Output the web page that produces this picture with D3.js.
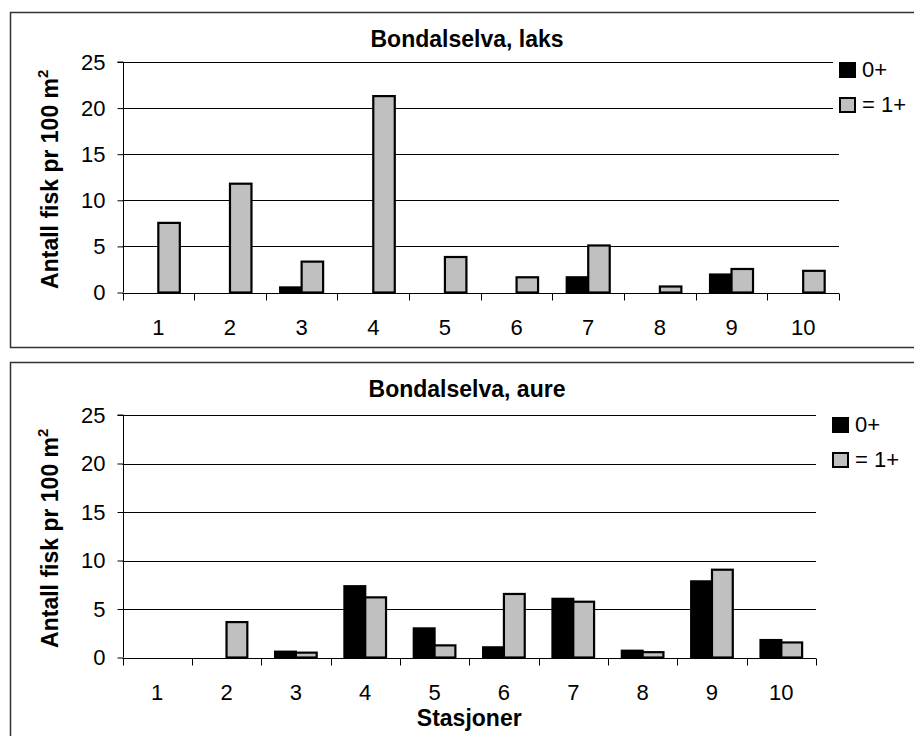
<!DOCTYPE html>
<html>
<head>
<meta charset="utf-8">
<script src="https://cdn.jsdelivr.net/npm/d3@7"></script>
<style>
  html, body { margin: 0; padding: 0; background: #fff; }
  svg { display: block; font-family: "Liberation Sans", Arial, sans-serif; }
</style>
</head>
<body>
<svg id="chart" width="914" height="736"></svg>
<script>
// ---- data ----
const categories = ["1", "2", "3", "4", "5", "6", "7", "8", "9", "10"];
const seriesNames = ["0+", "= 1+"];
const yTicks = [0, 5, 10, 15, 20, 25];
const laks0 = [0, 0, 0.55, 0, 0, 0, 1.65, 0, 1.95, 0];
const laks1 = [7.55, 11.8, 3.35, 21.3, 3.85, 1.65, 5.1, 0.65, 2.55, 2.35];
const aure0 = [0, 0, 0.6, 7.35, 3.0, 1.05, 6.05, 0.7, 7.85, 1.8];
const aure1 = [0, 3.65, 0.5, 6.2, 1.25, 6.55, 5.75, 0.55, 9.05, 1.55];
const titles = ["Bondalselva, laks", "Bondalselva, aure"];
const yTitle = "Antall fisk pr 100 m";
const xTitle = "Stasjoner";

const colors = ["#000000", "#c0c0c0"];

const panels = [
  { title: titles[0], s0: laks0, s1: laks1,
    boxY: 12, boxH: 335, left: 122.5, right: 839, top: 62, bottom: 292.5,
    titleY: 47, legX: 839, legY: 62, legBgX: 833, showXTitle: false },
  { title: titles[1], s0: aure0, s1: aure1,
    boxY: 362, boxH: 420, left: 122.5, right: 816, top: 415, bottom: 657.5,
    titleY: 397, legX: 832, legY: 417, legBgX: 828, showXTitle: true }
];

const svg = d3.select("#chart");

panels.forEach(p => {
  const g = svg.append("g");
  // outer frame
  g.append("rect")
    .attr("x", 10.5).attr("y", p.boxY + 0.5)
    .attr("width", 920).attr("height", p.boxH)
    .attr("fill", "#fff").attr("stroke", "#333").attr("stroke-width", 1.5);

  const x0 = d3.scaleBand().domain(categories).range([p.left, p.right]).padding(0);
  const bw = x0.bandwidth();
  const x1 = d3.scaleBand().domain(seriesNames).range([bw * 0.2, bw * 0.8]).padding(0);
  const y = d3.scaleLinear().domain([0, 25]).range([p.bottom, p.top]);

  // gridlines
  g.append("g").selectAll("line").data(yTicks.filter(t => t > 0)).join("line")
    .attr("x1", p.left).attr("x2", p.right)
    .attr("y1", d => Math.round(y(d)) + 0.5).attr("y2", d => Math.round(y(d)) + 0.5)
    .attr("stroke", "#000").attr("stroke-width", 1);

  // bars
  const rows = categories.map((c, i) => ({ c, vals: [p.s0[i], p.s1[i]] }));
  const grp = g.append("g").selectAll("g").data(rows).join("g")
    .attr("transform", d => `translate(${x0(d.c)},0)`);
  grp.selectAll("rect")
    .data(d => d.vals.map((v, k) => ({ v, k })).filter(e => e.v > 0))
    .join("rect")
    .attr("x", e => x1(seriesNames[e.k]))
    .attr("width", x1.bandwidth())
    .attr("y", e => y(e.v))
    .attr("height", e => y(0) - y(e.v))
    .attr("fill", e => colors[e.k])
    .attr("stroke", "#000").attr("stroke-width", 2.2);

  // y axis
  const yAxis = d3.axisLeft(y).tickValues(yTicks).tickSize(6).tickPadding(12).tickFormat(d3.format("d"));
  const ya = g.append("g").attr("transform", `translate(${Math.round(p.left) + 0.5},0)`).call(yAxis);
  ya.select(".domain").attr("stroke", "#000").attr("d", `M-6,${y(25)}H0V${y(0)}`);
  ya.selectAll(".tick line").attr("stroke", "#000");
  ya.selectAll(".tick text").attr("font-size", 22).attr("fill", "#000")
    .attr("font-family", "Liberation Sans, Arial, sans-serif");

  // x axis (ticks at category boundaries)
  const xa = g.append("g").attr("transform", `translate(0,${Math.round(p.bottom) + 0.5})`);
  xa.append("line").attr("x1", p.left).attr("x2", p.right).attr("stroke", "#000");
  const bounds = categories.map(c => x0(c)).concat([p.right]);
  xa.selectAll("line.tk").data(bounds).join("line").attr("class", "tk")
    .attr("x1", d => Math.round(d) + 0.5).attr("x2", d => Math.round(d) + 0.5)
    .attr("y1", 0).attr("y2", 7).attr("stroke", "#000");
  xa.selectAll("text").data(categories).join("text")
    .attr("x", d => x0(d) + bw / 2).attr("y", 41)
    .attr("text-anchor", "middle").attr("font-size", 22).attr("fill", "#000")
    .text(d => d);

  // title
  g.append("text").attr("x", 467).attr("y", p.titleY)
    .attr("text-anchor", "middle").attr("font-size", 23).attr("font-weight", "bold")
    .text(p.title);

  // y title
  const yc = (p.top + p.bottom) / 2;
  const yt = g.append("text")
    .attr("transform", `translate(58,${yc + 2}) rotate(-90)`)
    .attr("text-anchor", "middle").attr("font-size", 23).attr("font-weight", "bold");
  yt.append("tspan").text(yTitle);
  yt.append("tspan").attr("font-size", 15).attr("dy", -10).text("2");

  if (p.showXTitle) {
    g.append("text").attr("x", (p.left + p.right) / 2).attr("y", 726)
      .attr("text-anchor", "middle").attr("font-size", 23).attr("font-weight", "bold")
      .text(xTitle);
  }

  // legend
  const lg = g.append("g");
  lg.append("rect").attr("x", p.legBgX).attr("y", p.legY - 8)
    .attr("width", 90).attr("height", 62).attr("fill", "#fff");
  seriesNames.forEach((s, k) => {
    const yy = p.legY + k * 35;
    lg.append("rect").attr("x", p.legX + 1).attr("y", yy + 1)
      .attr("width", 15).attr("height", 14)
      .attr("fill", colors[k]).attr("stroke", "#000").attr("stroke-width", 2);
    lg.append("text").attr("x", p.legX + 23).attr("y", yy + 15)
      .attr("font-size", 22).attr("fill", "#000").text(s);
  });
});
</script>
</body>
</html>
